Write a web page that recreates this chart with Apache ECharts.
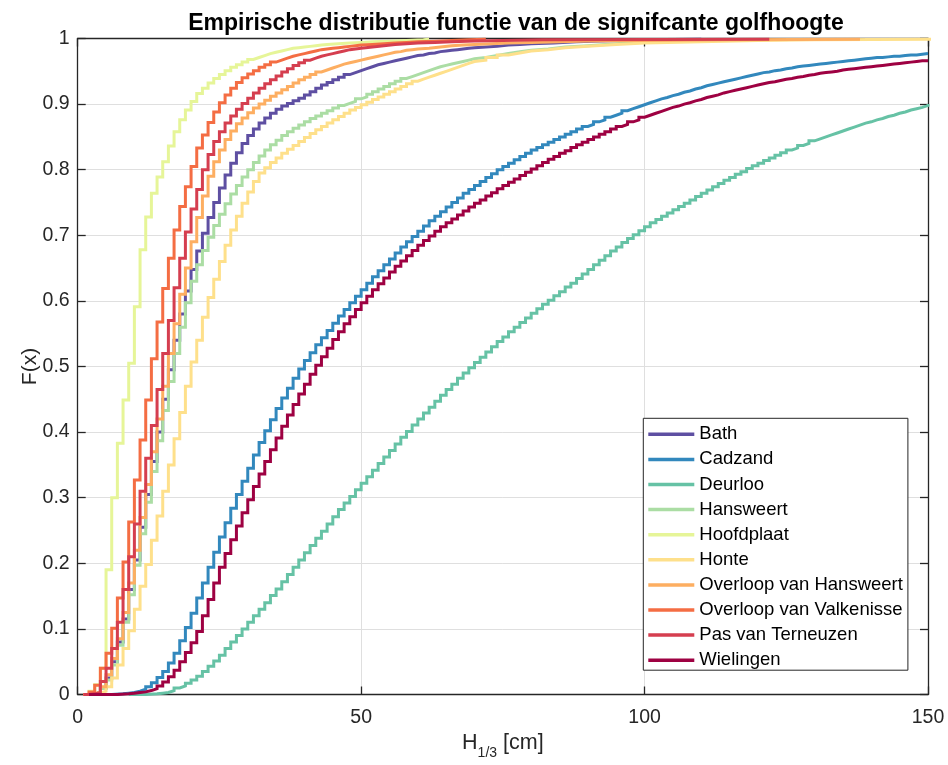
<!DOCTYPE html>
<html>
<head>
<meta charset="utf-8">
<script src="https://cdn.jsdelivr.net/npm/echarts/dist/echarts.min.js"></script>
<style>
html,body{margin:0;padding:0;background:#fff;}
#chart{width:948px;height:765px;}
</style>
</head>
<body>
<div id="chart"></div>
<script>
const seriesNames = ['Bath','Cadzand','Deurloo','Hansweert','Hoofdplaat','Honte','Overloop van Hansweert','Overloop van Valkenisse','Pas van Terneuzen','Wielingen'];
const seriesColors = ['#5e4fa2','#3288bd','#66c2a5','#abdda4','#e6f598','#fee08b','#fdae61','#f46d43','#d53e4f','#9e0142'];
const xTicks = [0, 50, 100, 150];
const yTicks = [0, 0.1, 0.2, 0.3, 0.4, 0.5, 0.6, 0.7, 0.8, 0.9, 1];

// ECDF values: [H1/3 in cm, F(x)]
const bath = [[1,0],[2,0.001],[3,0.003],[4,0.01],[5,0.025],[6,0.05],[7,0.08],[8,0.115],[9,0.16],[10,0.205],[11,0.255],[12,0.305],[13,0.355],[14,0.40],[15,0.45],[16,0.495],[17,0.54],[18,0.58],[19,0.615],[20,0.648],[21,0.676],[22,0.703],[23,0.727],[24,0.75],[25,0.772],[26,0.792],[27,0.81],[28,0.826],[29,0.84],[30,0.852],[31,0.862],[32,0.871],[33,0.879],[34,0.886],[35,0.892],[36,0.897],[37,0.901],[38,0.905],[39,0.909],[40,0.914],[41,0.919],[42,0.924],[43,0.929],[44,0.933],[45,0.937],[46,0.941],[47,0.945],[48,0.948],[49,0.951],[50,0.954],[51,0.957],[52,0.960],[53,0.962],[54,0.964],[55,0.966],[56,0.968],[57,0.970],[58,0.972],[59,0.974],[60,0.975],[61,0.977],[62,0.978],[63,0.980],[64,0.981],[65,0.982],[66,0.983],[67,0.984],[68,0.985],[69,0.986],[70,0.987],[72,0.988],[74,0.990],[76,0.991],[78,0.992],[80,0.993],[84,0.995],[88,0.996],[92,0.997],[96,0.998],[100,0.999],[110,1]];

const cadzand = [[2,0],[6,0.001],[8,0.002],[9,0.003],[10,0.005],[11,0.008],[12,0.012],[13,0.018],[14,0.026],[15,0.035],[16,0.048],[17,0.063],[18,0.082],[19,0.102],[20,0.124],[21,0.147],[22,0.170],[23,0.194],[24,0.217],[25,0.24],[26,0.262],[27,0.284],[28,0.305],[29,0.325],[30,0.345],[31,0.365],[32,0.384],[33,0.402],[34,0.419],[35,0.436],[36,0.452],[37,0.467],[38,0.482],[39,0.496],[40,0.509],[41,0.521],[42,0.533],[43,0.544],[44,0.555],[45,0.566],[46,0.577],[47,0.587],[48,0.597],[49,0.607],[50,0.617],[51,0.627],[52,0.637],[53,0.646],[54,0.655],[55,0.664],[56,0.673],[57,0.682],[58,0.690],[59,0.698],[60,0.706],[61,0.714],[62,0.722],[63,0.729],[64,0.736],[65,0.743],[66,0.750],[67,0.757],[68,0.764],[69,0.770],[70,0.776],[71,0.782],[72,0.788],[73,0.794],[74,0.800],[75,0.805],[76,0.810],[77,0.815],[78,0.820],[79,0.825],[80,0.830],[81,0.834],[82,0.838],[83,0.842],[84,0.846],[85,0.850],[86,0.854],[87,0.858],[88,0.862],[89,0.866],[90,0.869],[91,0.873],[92,0.876],[93,0.880],[94,0.883],[95,0.886],[96,0.890],[97,0.893],[98,0.896],[99,0.899],[100,0.902],[101,0.905],[102,0.908],[103,0.910],[104,0.913],[105,0.915],[106,0.918],[107,0.920],[108,0.923],[109,0.925],[110,0.928],[111,0.930],[112,0.932],[113,0.934],[114,0.936],[115,0.938],[116,0.940],[117,0.942],[118,0.944],[119,0.946],[120,0.948],[121,0.949],[122,0.951],[123,0.952],[124,0.954],[125,0.955],[126,0.957],[127,0.958],[128,0.959],[129,0.960],[130,0.961],[131,0.962],[132,0.963],[133,0.964],[134,0.965],[135,0.966],[136,0.967],[137,0.968],[138,0.969],[139,0.970],[140,0.971],[141,0.971],[142,0.972],[143,0.973],[144,0.973],[145,0.974],[146,0.975],[147,0.975],[148,0.976],[149,0.977],[150,0.977]];

const deurloo = [[9,0],[12,0.001],[14,0.002],[15,0.003],[16,0.006],[17,0.010],[18,0.013],[19,0.017],[20,0.022],[21,0.028],[22,0.035],[23,0.043],[24,0.051],[25,0.060],[26,0.070],[27,0.080],[28,0.090],[29,0.100],[30,0.110],[31,0.120],[32,0.130],[33,0.140],[34,0.151],[35,0.161],[36,0.172],[37,0.183],[38,0.194],[39,0.205],[40,0.216],[41,0.227],[42,0.238],[43,0.249],[44,0.260],[45,0.271],[46,0.282],[47,0.292],[48,0.302],[49,0.312],[50,0.322],[51,0.332],[52,0.342],[53,0.352],[54,0.362],[55,0.372],[56,0.382],[57,0.392],[58,0.401],[59,0.411],[60,0.420],[61,0.429],[62,0.438],[63,0.447],[64,0.456],[65,0.465],[66,0.473],[67,0.482],[68,0.490],[69,0.498],[70,0.506],[71,0.514],[72,0.522],[73,0.530],[74,0.538],[75,0.545],[76,0.553],[77,0.560],[78,0.567],[79,0.574],[80,0.581],[81,0.588],[82,0.595],[83,0.601],[84,0.608],[85,0.614],[86,0.621],[87,0.627],[88,0.634],[89,0.641],[90,0.648],[91,0.655],[92,0.662],[93,0.669],[94,0.676],[95,0.682],[96,0.689],[97,0.695],[98,0.701],[99,0.707],[100,0.713],[101,0.719],[102,0.724],[103,0.729],[104,0.734],[105,0.739],[106,0.744],[107,0.749],[108,0.754],[109,0.759],[110,0.764],[111,0.769],[112,0.774],[113,0.779],[114,0.784],[115,0.788],[116,0.793],[117,0.797],[118,0.802],[119,0.806],[120,0.810],[121,0.814],[122,0.818],[123,0.822],[124,0.826],[125,0.830],[126,0.833],[127,0.837],[128,0.840],[129,0.844],[130,0.847],[131,0.850],[132,0.853],[133,0.856],[134,0.859],[135,0.862],[136,0.865],[137,0.868],[138,0.871],[139,0.873],[140,0.876],[141,0.878],[142,0.881],[143,0.883],[144,0.886],[145,0.888],[146,0.891],[147,0.893],[148,0.895],[149,0.898],[150,0.900]];

const hansweert = [[1,0],[2,0.001],[3,0.003],[4,0.009],[5,0.022],[6,0.045],[7,0.075],[8,0.11],[9,0.152],[10,0.197],[11,0.245],[12,0.293],[13,0.34],[14,0.387],[15,0.433],[16,0.477],[17,0.52],[18,0.56],[19,0.597],[20,0.63],[21,0.655],[22,0.677],[23,0.697],[24,0.715],[25,0.732],[26,0.748],[27,0.763],[28,0.776],[29,0.789],[30,0.80],[31,0.811],[32,0.821],[33,0.83],[34,0.838],[35,0.845],[36,0.852],[37,0.858],[38,0.863],[39,0.868],[40,0.873],[41,0.878],[42,0.882],[43,0.886],[44,0.890],[45,0.894],[46,0.898],[47,0.901],[48,0.904],[49,0.908],[50,0.911],[51,0.915],[52,0.919],[53,0.923],[54,0.927],[55,0.931],[56,0.935],[57,0.939],[58,0.942],[59,0.945],[60,0.948],[61,0.951],[62,0.954],[63,0.957],[64,0.959],[65,0.961],[66,0.963],[67,0.965],[68,0.967],[69,0.969],[70,0.971],[72,0.974],[74,0.977],[76,0.980],[78,0.982],[80,0.984],[83,0.987],[86,0.989],[90,0.992],[95,0.995],[100,0.998],[105,1]];

const hoofdplaat = [[1,0],[2,0.005],[3,0.015],[4,0.04],[5,0.19],[6,0.30],[7,0.383],[8,0.449],[9,0.505],[10,0.591],[11,0.678],[12,0.728],[13,0.764],[14,0.789],[15,0.812],[16,0.836],[17,0.858],[18,0.876],[19,0.891],[20,0.904],[21,0.916],[22,0.924],[23,0.932],[24,0.939],[25,0.945],[26,0.951],[27,0.956],[28,0.960],[29,0.964],[30,0.968],[31,0.971],[32,0.974],[33,0.977],[34,0.979],[35,0.981],[36,0.983],[37,0.985],[38,0.986],[39,0.987],[40,0.988],[41,0.989],[42,0.990],[43,0.991],[44,0.992],[46,0.993],[48,0.994],[50,0.995],[52,0.996],[55,0.997],[58,0.998],[61,0.999],[62,1]];

const honte = [[2,0],[3,0.002],[4,0.005],[5,0.012],[6,0.025],[7,0.045],[8,0.07],[9,0.097],[10,0.13],[11,0.165],[12,0.198],[13,0.235],[14,0.272],[15,0.31],[16,0.35],[17,0.39],[18,0.43],[19,0.47],[20,0.507],[21,0.54],[22,0.575],[23,0.605],[24,0.633],[25,0.66],[26,0.685],[27,0.708],[28,0.729],[29,0.749],[30,0.766],[31,0.782],[32,0.795],[33,0.803],[34,0.811],[35,0.818],[36,0.825],[37,0.831],[38,0.837],[39,0.843],[40,0.849],[41,0.855],[42,0.861],[43,0.866],[44,0.871],[45,0.876],[46,0.881],[47,0.886],[48,0.891],[49,0.895],[50,0.899],[51,0.903],[52,0.907],[53,0.911],[54,0.915],[55,0.919],[56,0.923],[57,0.927],[58,0.931],[59,0.935],[60,0.938],[61,0.941],[62,0.944],[63,0.947],[64,0.950],[65,0.953],[66,0.956],[67,0.959],[68,0.962],[69,0.965],[70,0.967],[72,0.971],[74,0.975],[76,0.978],[78,0.981],[80,0.983],[83,0.986],[86,0.988],[90,0.991],[95,0.993],[100,0.995],[110,0.997],[120,0.998],[130,0.999],[155,1]];

const overloopHansweert = [[1,0],[2,0.001],[3,0.004],[4,0.012],[5,0.03],[6,0.055],[7,0.085],[8,0.125],[9,0.17],[10,0.22],[11,0.27],[12,0.32],[13,0.37],[14,0.42],[15,0.47],[16,0.52],[17,0.565],[18,0.61],[19,0.65],[20,0.69],[21,0.727],[22,0.76],[23,0.79],[24,0.812],[25,0.830],[26,0.846],[27,0.859],[28,0.870],[29,0.879],[30,0.887],[31,0.894],[32,0.900],[33,0.906],[34,0.912],[35,0.917],[36,0.922],[37,0.927],[38,0.932],[39,0.937],[40,0.941],[41,0.945],[42,0.949],[43,0.952],[44,0.955],[45,0.958],[46,0.961],[47,0.963],[48,0.965],[49,0.967],[50,0.969],[51,0.971],[52,0.973],[53,0.975],[54,0.977],[55,0.979],[56,0.980],[57,0.982],[58,0.983],[59,0.984],[60,0.985],[62,0.987],[64,0.989],[66,0.990],[68,0.991],[70,0.992],[73,0.993],[76,0.994],[80,0.995],[85,0.996],[90,0.997],[100,0.998],[115,0.999],[138,1]];

const overloopValkenisse = [[1,0],[2,0.004],[3,0.014],[4,0.040],[5,0.063],[6,0.101],[7,0.147],[8,0.202],[9,0.263],[10,0.327],[11,0.388],[12,0.449],[13,0.512],[14,0.568],[15,0.619],[16,0.665],[17,0.708],[18,0.744],[19,0.774],[20,0.805],[21,0.833],[22,0.853],[23,0.872],[24,0.888],[25,0.902],[26,0.914],[27,0.924],[28,0.933],[29,0.940],[30,0.946],[31,0.951],[32,0.956],[33,0.960],[34,0.964],[35,0.967],[36,0.970],[37,0.973],[38,0.975],[39,0.977],[40,0.979],[41,0.981],[42,0.983],[43,0.984],[44,0.985],[45,0.986],[46,0.987],[47,0.988],[48,0.989],[49,0.990],[50,0.991],[52,0.992],[54,0.993],[56,0.994],[58,0.995],[60,0.996],[63,0.997],[66,0.998],[69,0.999],[72,1]];

const pasVanTerneuzen = [[1,0],[2,0.001],[3,0.003],[4,0.02],[5,0.04],[6,0.07],[7,0.11],[8,0.16],[9,0.21],[10,0.26],[11,0.31],[12,0.36],[13,0.41],[14,0.465],[15,0.52],[16,0.57],[17,0.62],[18,0.665],[19,0.705],[20,0.74],[21,0.77],[22,0.80],[23,0.823],[24,0.843],[25,0.858],[26,0.871],[27,0.882],[28,0.892],[29,0.901],[30,0.909],[31,0.917],[32,0.924],[33,0.931],[34,0.937],[35,0.943],[36,0.949],[37,0.954],[38,0.959],[39,0.963],[40,0.967],[41,0.970],[42,0.973],[43,0.975],[44,0.977],[45,0.979],[46,0.981],[47,0.983],[48,0.984],[49,0.985],[50,0.987],[52,0.989],[54,0.991],[56,0.992],[58,0.993],[60,0.994],[63,0.995],[66,0.996],[70,0.997],[75,0.998],[82,0.999],[122,1]];

const wielingen = [[2,0],[7,0.001],[9,0.002],[10,0.003],[11,0.004],[12,0.006],[13,0.009],[14,0.013],[15,0.019],[16,0.027],[17,0.037],[18,0.05],[19,0.064],[20,0.079],[21,0.096],[22,0.12],[23,0.145],[24,0.17],[25,0.194],[26,0.215],[27,0.236],[28,0.257],[29,0.277],[30,0.297],[31,0.317],[32,0.336],[33,0.355],[34,0.373],[35,0.391],[36,0.409],[37,0.426],[38,0.442],[39,0.458],[40,0.473],[41,0.488],[42,0.502],[43,0.515],[44,0.528],[45,0.541],[46,0.553],[47,0.565],[48,0.576],[49,0.587],[50,0.597],[51,0.607],[52,0.617],[53,0.626],[54,0.635],[55,0.644],[56,0.653],[57,0.661],[58,0.669],[59,0.677],[60,0.685],[61,0.692],[62,0.699],[63,0.706],[64,0.713],[65,0.719],[66,0.725],[67,0.731],[68,0.737],[69,0.743],[70,0.749],[71,0.754],[72,0.760],[73,0.765],[74,0.771],[75,0.776],[76,0.781],[77,0.786],[78,0.791],[79,0.796],[80,0.801],[81,0.806],[82,0.811],[83,0.816],[84,0.820],[85,0.825],[86,0.829],[87,0.834],[88,0.838],[89,0.842],[90,0.846],[91,0.850],[92,0.854],[93,0.858],[94,0.862],[95,0.866],[96,0.869],[97,0.873],[98,0.876],[99,0.880],[100,0.883],[101,0.886],[102,0.889],[103,0.892],[104,0.895],[105,0.897],[106,0.900],[107,0.902],[108,0.905],[109,0.907],[110,0.910],[111,0.912],[112,0.914],[113,0.917],[114,0.919],[115,0.921],[116,0.923],[117,0.925],[118,0.927],[119,0.929],[120,0.931],[121,0.933],[122,0.934],[123,0.936],[124,0.938],[125,0.939],[126,0.941],[127,0.942],[128,0.944],[129,0.945],[130,0.947],[131,0.948],[132,0.949],[133,0.950],[134,0.952],[135,0.953],[136,0.954],[137,0.955],[138,0.956],[139,0.957],[140,0.958],[141,0.959],[142,0.960],[143,0.961],[144,0.962],[145,0.963],[146,0.964],[147,0.965],[148,0.966],[149,0.966],[150,0.967]];

const seriesData = [bath, cadzand, deurloo, hansweert, hoofdplaat, honte, overloopHansweert, overloopValkenisse, pasVanTerneuzen, wielingen];

const FONT = '"Liberation Sans", Arial, Helvetica, sans-serif';
const AX = '#262626';

const chart = echarts.init(document.getElementById('chart'), null, {renderer: 'canvas'});

const series = seriesNames.map((name, i) => ({
  name: name,
  type: 'line',
  step: 'end',
  data: seriesData[i],
  xAxisIndex: 0,
  yAxisIndex: 0,
  showSymbol: false,
  symbol: 'none',
  color: seriesColors[i],
  lineStyle: {width: 3, color: seriesColors[i], join: 'miter'},
  clip: true,
  animation: false,
  z: 2
}));

const option = {
  animation: false,
  backgroundColor: '#ffffff',
  textStyle: {fontFamily: FONT},
  title: {
    text: 'Empirische distributie functie van de signifcante golfhoogte',
    left: 511, top: 7, textAlign: 'center',
    textStyle: {fontFamily: FONT, fontWeight: 'bold', fontSize: 23, color: '#000'}
  },
  grid: {left: 77.7, right: 20, top: 38.5, bottom: 70.5, containLabel: false, outerBoundsMode: 'none'},
  legend: {
    orient: 'vertical',
    left: 643.3, top: 418.3,
    data: seriesNames,
    icon: 'rect',
    itemWidth: 46, itemHeight: 3.5,
    itemGap: 5.1,
    padding: [6, 5, 0, 5],
    backgroundColor: '#ffffff',
    borderColor: AX, borderWidth: 1,
    selectedMode: false,
    textStyle: {fontFamily: FONT, fontSize: 18.5, color: '#000', lineHeight: 20, padding: [0,0,0,0]}
  },
  xAxis: [{
    type: 'value', min: 0, max: 150, interval: 50,
    name: '{a|H}{b|1/3}{a| [cm]}',
    nameLocation: 'middle', nameGap: 38, nameMoveOverlap: false,
    nameTextStyle: {
      rich: {
        a: {fontFamily: FONT, fontSize: 21.5, color: AX, lineHeight: 22, verticalAlign: 'top'},
        b: {fontFamily: FONT, fontSize: 14, color: AX, lineHeight: 28, verticalAlign: 'bottom'}
      }
    },
    axisLine: {show: true, onZero: false, lineStyle: {color: AX, width: 1.3}},
    axisTick: {show: true, inside: true, length: 8, lineStyle: {color: AX, width: 1.3}},
    axisLabel: {fontFamily: FONT, fontSize: 19.5, color: AX, margin: 13},
    splitLine: {show: true, lineStyle: {color: '#dfdfdf', width: 1}}
  }, {
    type: 'value', min: 0, max: 150, interval: 50, position: 'top',
    axisLine: {show: true, onZero: false, lineStyle: {color: AX, width: 1.3}},
    axisTick: {show: true, inside: true, length: 8, lineStyle: {color: AX, width: 1.3}},
    axisLabel: {show: false},
    splitLine: {show: false}
  }],
  yAxis: [{
    type: 'value', min: 0, max: 1, interval: 0.1,
    name: 'F(x)', nameLocation: 'middle', nameGap: 37, nameMoveOverlap: false,
    nameTextStyle: {fontFamily: FONT, fontSize: 21, color: AX},
    axisLine: {show: true, onZero: false, lineStyle: {color: AX, width: 1.3}},
    axisTick: {show: true, inside: true, length: 8, lineStyle: {color: AX, width: 1.3}},
    axisLabel: {fontFamily: FONT, fontSize: 19.5, color: AX, margin: 8,
      formatter: v => (Math.abs(v) < 1e-9 ? '0' : (Math.abs(v - 1) < 1e-9 ? '1' : v.toFixed(1)))},
    splitLine: {show: true, lineStyle: {color: '#dfdfdf', width: 1}}
  }, {
    type: 'value', min: 0, max: 1, interval: 0.1, position: 'right',
    axisLine: {show: true, onZero: false, lineStyle: {color: AX, width: 1.3}},
    axisTick: {show: true, inside: true, length: 8, lineStyle: {color: AX, width: 1.3}},
    axisLabel: {show: false},
    splitLine: {show: false}
  }],
  series: series
};
chart.setOption(option);
</script>
</body>
</html>
